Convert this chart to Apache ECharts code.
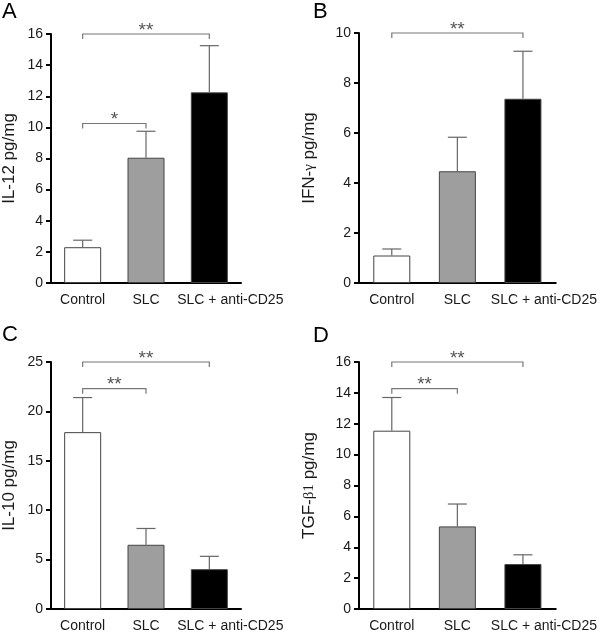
<!DOCTYPE html>
<html>
<head>
<meta charset="utf-8">
<script src="https://cdn.jsdelivr.net/npm/echarts@6/dist/echarts.min.js"></script>
<style>html,body{margin:0;padding:0;background:#fff}#c{width:600px;height:633px}</style>
</head>
<body>
<div id="c"></div>
<script>
var categories = ['Control', 'SLC', 'SLC + anti-CD25'];

var il12Mean = [2.3, 8.05, 12.25];
var il12Sd = [0.45, 1.7, 3.0];
var il12Brackets = [[0, 2, 16, '**'], [0, 1, 10.25, '*']];

var ifnMean = [1.1, 4.47, 7.37];
var ifnSd = [0.26, 1.36, 1.9];
var ifnBrackets = [[0, 2, 10, '**']];

var il10Mean = [17.9, 6.5, 4.03];
var il10Sd = [3.5, 1.65, 1.3];
var il10Brackets = [[0, 2, 25, '**'], [0, 1, 22.3, '**']];

var tgfMean = [11.55, 5.35, 2.91];
var tgfSd = [2.15, 1.45, 0.6];
var tgfBrackets = [[0, 2, 16, '**'], [0, 1, 14.27, '**']];

var yMax = [16, 10, 25, 16];
var yInterval = [2, 2, 5, 2];
var panelLetters = ['A', 'B', 'C', 'D'];

var barColors = ['#ffffff', '#9e9e9e', '#000000'];
var FONT = '"Liberation Sans", Arial, Helvetica, sans-serif';

var panels = [
  {mean: il12Mean, sd: il12Sd, br: il12Brackets, name: 'IL-12 pg/mg', grid: {left: 46, top: 34, width: 195, height: 249}, gap: 33},
  {mean: ifnMean, sd: ifnSd, br: ifnBrackets, name: '{a|IFN-}{s|γ}{a| pg/mg}', grid: {left: 359, top: 33, width: 197, height: 250}, gap: 41},
  {mean: il10Mean, sd: il10Sd, br: il10Brackets, name: 'IL-10 pg/mg', grid: {left: 46, top: 362, width: 195, height: 249}, gap: 33},
  {mean: tgfMean, sd: tgfSd, br: tgfBrackets, name: '{a|TGF-}{s|β1}{a| pg/mg}', grid: {left: 359, top: 362, width: 197, height: 249}, gap: 41}
];

var grids = [], xAxes = [], yAxes = [], series = [], titles = [];
var letterPos = [[2, 1], [313, 1], [2, 324], [313, 325]];

var xData = categories.map(function (c, k) {
  return k === 2 ? {value: c, textStyle: {padding: [0, 0, 0, 42]}} : c;
});

panels.forEach(function (p, i) {
  grids.push(Object.assign({containLabel: false}, p.grid));
  xAxes.push({
    type: 'category', gridIndex: i, data: xData,
    axisLine: {lineStyle: {color: '#000', width: 2}},
    axisTick: {alignWithLabel: true, length: 5, lineStyle: {color: '#000', width: 2}},
    axisLabel: {color: '#1a1a1a', fontSize: 14, fontFamily: FONT, margin: 10, interval: 0, hideOverlap: false}
  });
  yAxes.push({
    type: 'value', gridIndex: i, min: 0, max: yMax[i], interval: yInterval[i],
    name: p.name, nameLocation: 'middle', nameGap: p.gap,
    nameTextStyle: {color: '#1a1a1a', fontSize: 17, fontFamily: FONT,
      rich: {a: {fontSize: 17, fontFamily: FONT, color: '#1a1a1a'}, s: {fontSize: 15, fontFamily: '"Liberation Serif", "Times New Roman", serif', color: '#1a1a1a'}}},
    axisLine: {show: true, lineStyle: {color: '#000', width: 2}},
    axisTick: {show: true, length: 5, lineStyle: {color: '#000', width: 2}},
    axisLabel: {color: '#1a1a1a', fontSize: 14, fontFamily: FONT, margin: 8},
    splitLine: {show: false}
  });
  series.push({
    type: 'bar', xAxisIndex: i, yAxisIndex: i, barWidth: 37,
    data: p.mean.map(function (v, k) {
      return {value: v, itemStyle: {color: barColors[k], borderColor: '#444', borderWidth: 1}};
    }),
    z: 2
  });
  series.push({
    type: 'custom', xAxisIndex: i, yAxisIndex: i, z: 3, clip: false,
    data: p.mean.map(function (v, k) { return [k, v, v + p.sd[k]]; }),
    renderItem: function (params, api) {
      var a = api.coord([api.value(0), api.value(1)]);
      var b = api.coord([api.value(0), api.value(2)]);
      var hw = 9.5;
      var st = {stroke: '#666', lineWidth: 1.2};
      return {type: 'group', children: [
        {type: 'line', shape: {x1: a[0], y1: a[1], x2: b[0], y2: b[1]}, style: st},
        {type: 'line', shape: {x1: b[0] - hw, y1: b[1], x2: b[0] + hw, y2: b[1]}, style: st}
      ]};
    }
  });
  series.push({
    type: 'custom', xAxisIndex: i, yAxisIndex: i, z: 4, clip: false,
    data: p.br,
    renderItem: function (params, api) {
      var y = api.value(2);
      var l = api.coord([api.value(0), y]);
      var r = api.coord([api.value(1), y]);
      var label = p.br[params.dataIndex][3];
      var st = {stroke: '#777', lineWidth: 1.2, fill: null};
      return {type: 'group', children: [
        {type: 'polyline', shape: {points: [[l[0], l[1] + 5], [l[0], l[1]], [r[0], r[1]], [r[0], r[1] + 5]]}, style: st},
        {type: 'text', x: (l[0] + r[0]) / 2, y: l[1] + 6,
         style: {text: label, fill: '#555', font: '19px ' + FONT, textAlign: 'center', textVerticalAlign: 'bottom'}}
      ]};
    }
  });
  titles.push({text: panelLetters[i], left: letterPos[i][0], top: letterPos[i][1], padding: 0,
    textStyle: {fontSize: 22, fontWeight: 'normal', color: '#000', fontFamily: FONT}});
});

var chart = echarts.init(document.getElementById('c'), null, {renderer: 'canvas'});
chart.setOption({
  animation: false,
  backgroundColor: '#fff',
  title: titles,
  grid: grids,
  xAxis: xAxes,
  yAxis: yAxes,
  series: series
});
</script>
</body>
</html>
